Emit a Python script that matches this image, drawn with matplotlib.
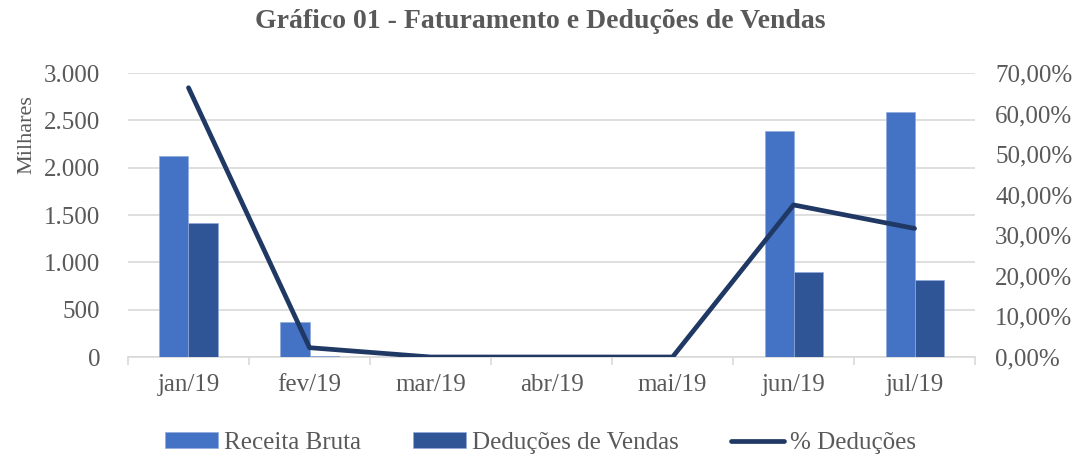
import numpy as np
import matplotlib
matplotlib.use("Agg")
import matplotlib.pyplot as plt
from matplotlib.ticker import FuncFormatter, FixedLocator

# dados do gráfico (milhares de R$ e %)
meses = ["jan/19", "fev/19", "mar/19", "abr/19", "mai/19", "jun/19", "jul/19"]
receita_bruta = [2126, 366, 0, 0, 0, 2390, 2588]
deducoes_vendas = [1412, 8, 0, 0, 0, 895, 815]
pct_deducoes = [66.4, 2.3, 0.0, 0.0, 0.0, 37.5, 31.7]

plt.rcParams['font.family'] = ['Liberation Serif', 'DejaVu Serif']
cinza = "#595959"

fig = plt.figure(figsize=(10.81, 4.57), dpi=100)
ax = fig.add_axes([0.1184, 0.2188, 0.7836, 0.6212])
ax2 = ax.twinx()

x = np.arange(len(meses))
larg = 0.24
b1 = ax.bar(x - larg / 2, receita_bruta, larg, color="#4472C4", edgecolor="#8FAADC",
            linewidth=0.5, label="Receita Bruta", zorder=3)
b2 = ax.bar(x + larg / 2, deducoes_vendas, larg, color="#2F5597", edgecolor="#8FAADC",
            linewidth=0.5, label="Deduções de Vendas", zorder=3)
l1, = ax2.plot(x, pct_deducoes, color="#203864", linewidth=3.4, solid_capstyle="round",
               label="% Deduções", zorder=4)

ax.set_xlim(-0.5, len(meses) - 0.5)
ax.set_ylim(0, 3000)
ax2.set_ylim(0, 70)
ax.set_yticks(np.arange(0, 3001, 500))
ax2.set_yticks(np.arange(0, 71, 10))

ax.yaxis.set_major_formatter(FuncFormatter(lambda v, p: f"{int(v):,}".replace(",", ".")))
ax2.yaxis.set_major_formatter(FuncFormatter(lambda v, p: f"{v:.2f}".replace(".", ",") + "%"))

ax.grid(axis="y", color="#D9D9D9", linewidth=1.2, zorder=0)
ax.set_axisbelow(True)
for a in (ax, ax2):
    for s in ["top", "right", "left"]:
        a.spines[s].set_visible(False)
ax2.spines["bottom"].set_visible(False)
ax.spines["bottom"].set_color("#D9D9D9")
ax.spines["bottom"].set_linewidth(1.2)

ax.set_xticks(x)
ax.set_xticklabels(meses, fontsize=18, color=cinza)
ax.tick_params(axis="x", length=0, pad=12)
ax.xaxis.set_minor_locator(FixedLocator(np.arange(-0.5, len(meses), 1)))
ax.tick_params(axis="x", which="minor", length=6, color="#D9D9D9", width=1.2)
ax.tick_params(axis="y", length=0, labelsize=18, labelcolor=cinza, pad=20)
ax2.tick_params(axis="y", length=0, labelsize=18, labelcolor=cinza, pad=14.5)

ax.set_ylabel("Milhares", fontsize=16, color=cinza)
ax.yaxis.set_label_coords(-0.108, 0.785)

fig.text(0.5, 0.952, "Gráfico 01 - Faturamento e Deduções de Vendas", fontsize=20,
         fontweight="bold", color=cinza, ha="center", va="center")

fig.legend([b1, b2, l1], ["Receita Bruta", "Deduções de Vendas", "% Deduções"],
           loc="center", bbox_to_anchor=(0.5, 0.031), ncol=3, frameon=False,
           fontsize=18, labelcolor=cinza, handlelength=2.1, handleheight=0.56,
           handletextpad=0.24, columnspacing=2.1, borderpad=0)

fig.savefig("out.png", dpi=100)
